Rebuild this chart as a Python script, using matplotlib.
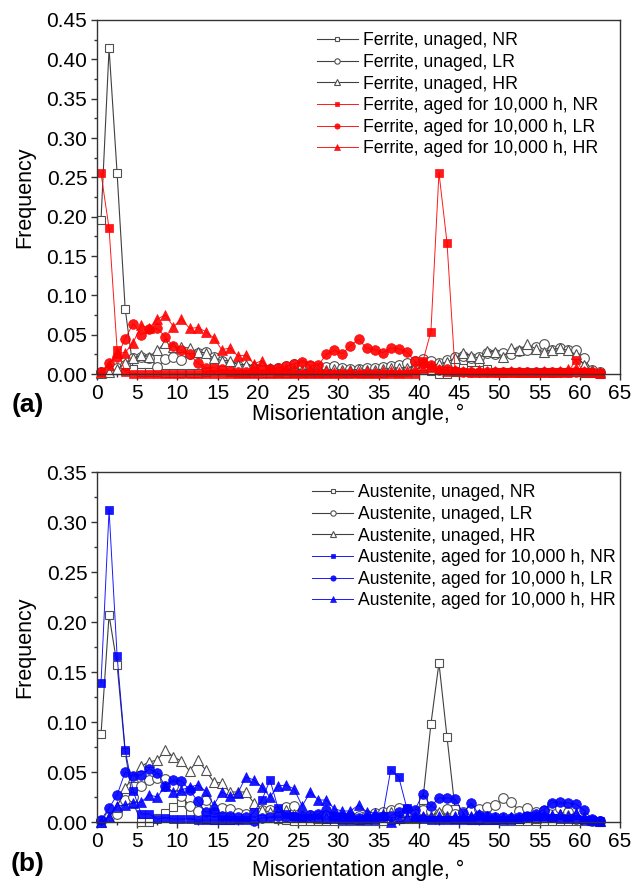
import numpy as np
import matplotlib
matplotlib.use("Agg")
import matplotlib.pyplot as plt

plt.rcParams["font.family"] = ["Liberation Sans", "DejaVu Sans"]

# bin centres of the misorientation histogram (degrees)
angle = np.arange(0.5, 63.0, 1.0)

# ---- (a) ferrite ----
f_un_nr = [0.196, 0.414, 0.255, 0.083, 0.006, 0.003, 0.002, 0.002, 0.001, 0.001,
           0.001, 0.001, 0.001, 0.002, 0.010, 0.010, 0.002, 0.001, 0.001, 0.001,
           0.001, 0.001, 0.001, 0.001, 0.001, 0.001, 0.001, 0.001, 0.001, 0.001,
           0.001, 0.001, 0.001, 0.001, 0.001, 0.001, 0.002, 0.003, 0.005, 0.006,
           0.008, 0.004, 0.000, 0.000, 0.003, 0.008, 0.015, 0.015, 0.006, 0.003,
           0.002, 0.002, 0.002, 0.002, 0.002, 0.002, 0.002, 0.002, 0.002, 0.002,
           0.001, 0.001, 0.000]
f_un_lr = [0.002, 0.005, 0.008, 0.012, 0.020, 0.022, 0.020, 0.009, 0.019, 0.022,
           0.018, 0.026, 0.027, 0.028, 0.022, 0.016, 0.012, 0.010, 0.008, 0.007,
           0.006, 0.006, 0.008, 0.010, 0.013, 0.012, 0.010, 0.008, 0.009, 0.010,
           0.007, 0.006, 0.006, 0.007, 0.008, 0.009, 0.010, 0.012, 0.014, 0.016,
           0.019, 0.016, 0.014, 0.018, 0.021, 0.023, 0.020, 0.022, 0.027, 0.025,
           0.027, 0.026, 0.029, 0.031, 0.034, 0.038, 0.030, 0.033, 0.030, 0.030,
           0.020, 0.005, 0.002]
f_un_hr = [0.001, 0.003, 0.006, 0.014, 0.020, 0.024, 0.022, 0.030, 0.040, 0.034,
           0.034, 0.033, 0.028, 0.027, 0.020, 0.017, 0.017, 0.012, 0.012, 0.010,
           0.012, 0.008, 0.007, 0.006, 0.006, 0.005, 0.005, 0.006, 0.005, 0.006,
           0.005, 0.005, 0.006, 0.005, 0.005, 0.006, 0.007, 0.008, 0.008, 0.010,
           0.012, 0.010, 0.013, 0.015, 0.020, 0.027, 0.023, 0.020, 0.029, 0.028,
           0.022, 0.033, 0.031, 0.038, 0.032, 0.028, 0.031, 0.033, 0.030, 0.025,
           0.012, 0.005, 0.002]
f_ag_nr = [0.255, 0.185, 0.031, 0.003, 0.000, 0.000, 0.000, 0.000, 0.000, 0.000,
           0.000, 0.000, 0.000, 0.000, 0.000, 0.000, 0.000, 0.000, 0.000, 0.000,
           0.000, 0.000, 0.000, 0.000, 0.000, 0.000, 0.000, 0.000, 0.000, 0.000,
           0.000, 0.000, 0.000, 0.000, 0.000, 0.000, 0.000, 0.000, 0.000, 0.000,
           0.016, 0.054, 0.256, 0.167, 0.004, 0.002, 0.001, 0.001, 0.001, 0.001,
           0.001, 0.001, 0.001, 0.001, 0.001, 0.001, 0.001, 0.001, 0.001, 0.018,
           0.002, 0.001, 0.001]
f_ag_lr = [0.003, 0.014, 0.022, 0.045, 0.064, 0.050, 0.057, 0.058, 0.047, 0.035,
           0.030, 0.025, 0.014, 0.008, 0.008, 0.006, 0.004, 0.003, 0.003, 0.004,
           0.005, 0.006, 0.008, 0.010, 0.013, 0.015, 0.011, 0.011, 0.025, 0.030,
           0.026, 0.036, 0.044, 0.033, 0.031, 0.027, 0.033, 0.032, 0.028, 0.016,
           0.014, 0.012, 0.005, 0.006, 0.004, 0.003, 0.002, 0.002, 0.002, 0.002,
           0.002, 0.002, 0.002, 0.002, 0.002, 0.002, 0.002, 0.002, 0.002, 0.002,
           0.002, 0.002, 0.001]
f_ag_hr = [0.002, 0.012, 0.027, 0.027, 0.040, 0.062, 0.058, 0.070, 0.075, 0.060,
           0.070, 0.058, 0.059, 0.054, 0.046, 0.031, 0.033, 0.023, 0.024, 0.013,
           0.017, 0.006, 0.004, 0.005, 0.004, 0.003, 0.004, 0.003, 0.004, 0.003,
           0.003, 0.004, 0.003, 0.004, 0.003, 0.004, 0.004, 0.003, 0.004, 0.006,
           0.008, 0.009, 0.006, 0.004, 0.005, 0.004, 0.004, 0.005, 0.004, 0.004,
           0.003, 0.004, 0.003, 0.003, 0.003, 0.004, 0.003, 0.004, 0.006, 0.008,
           0.004, 0.002, 0.001]

# ---- (b) austenite ----
a_un_nr = [0.088, 0.207, 0.157, 0.070, 0.019, 0.000, 0.000, 0.004, 0.009, 0.015,
           0.020, 0.008, 0.005, 0.003, 0.002, 0.002, 0.002, 0.003, 0.004, 0.003,
           0.004, 0.004, 0.003, 0.002, 0.001, 0.001, 0.001, 0.001, 0.001, 0.001,
           0.001, 0.001, 0.001, 0.001, 0.001, 0.001, 0.002, 0.003, 0.005, 0.008,
           0.022, 0.098, 0.159, 0.085, 0.013, 0.004, 0.002, 0.002, 0.002, 0.002,
           0.001, 0.001, 0.001, 0.001, 0.001, 0.001, 0.001, 0.001, 0.001, 0.001,
           0.001, 0.001, 0.000]
a_un_lr = [0.001, 0.005, 0.008, 0.022, 0.025, 0.036, 0.042, 0.044, 0.043, 0.036,
           0.026, 0.016, 0.011, 0.022, 0.013, 0.014, 0.013, 0.009, 0.008, 0.010,
           0.012, 0.012, 0.011, 0.015, 0.016, 0.006, 0.007, 0.006, 0.006, 0.005,
           0.005, 0.006, 0.006, 0.007, 0.009, 0.010, 0.012, 0.014, 0.010, 0.008,
           0.012, 0.011, 0.008, 0.013, 0.008, 0.010, 0.012, 0.013, 0.015, 0.017,
           0.024, 0.020, 0.011, 0.014, 0.010, 0.011, 0.017, 0.014, 0.010, 0.003,
           0.002, 0.001, 0.001]
a_un_hr = [0.000, 0.005, 0.015, 0.034, 0.045, 0.056, 0.060, 0.062, 0.072, 0.065,
           0.061, 0.051, 0.062, 0.052, 0.040, 0.039, 0.030, 0.030, 0.030, 0.019,
           0.012, 0.010, 0.010, 0.012, 0.008, 0.006, 0.005, 0.004, 0.004, 0.005,
           0.004, 0.004, 0.003, 0.004, 0.005, 0.008, 0.010, 0.006, 0.004, 0.004,
           0.005, 0.006, 0.010, 0.006, 0.004, 0.004, 0.004, 0.004, 0.005, 0.004,
           0.004, 0.005, 0.004, 0.005, 0.004, 0.005, 0.006, 0.008, 0.007, 0.008,
           0.005, 0.002, 0.001]
a_ag_nr = [0.139, 0.312, 0.166, 0.072, 0.031, 0.008, 0.008, 0.003, 0.004, 0.003,
           0.003, 0.003, 0.002, 0.002, 0.002, 0.002, 0.002, 0.002, 0.002, 0.010,
           0.022, 0.042, 0.014, 0.008, 0.006, 0.004, 0.004, 0.004, 0.003, 0.003,
           0.002, 0.002, 0.002, 0.002, 0.002, 0.006, 0.052, 0.045, 0.014, 0.004,
           0.003, 0.002, 0.002, 0.002, 0.002, 0.002, 0.002, 0.002, 0.002, 0.002,
           0.002, 0.002, 0.003, 0.006, 0.006, 0.005, 0.004, 0.003, 0.003, 0.003,
           0.002, 0.002, 0.001]
a_ag_lr = [0.002, 0.014, 0.027, 0.050, 0.046, 0.047, 0.053, 0.049, 0.036, 0.042,
           0.041, 0.032, 0.021, 0.010, 0.010, 0.006, 0.006, 0.005, 0.005, 0.001,
           0.004, 0.005, 0.006, 0.005, 0.005, 0.006, 0.007, 0.008, 0.012, 0.006,
           0.005, 0.005, 0.004, 0.004, 0.005, 0.005, 0.006, 0.010, 0.013, 0.012,
           0.028, 0.016, 0.024, 0.024, 0.023, 0.009, 0.019, 0.007, 0.006, 0.005,
           0.005, 0.004, 0.005, 0.006, 0.008, 0.012, 0.019, 0.020, 0.019, 0.018,
           0.012, 0.003, 0.001]
a_ag_hr = [0.000, 0.005, 0.016, 0.017, 0.019, 0.020, 0.027, 0.025, 0.036, 0.030,
           0.032, 0.035, 0.037, 0.031, 0.017, 0.030, 0.026, 0.029, 0.045, 0.042,
           0.035, 0.025, 0.036, 0.037, 0.033, 0.016, 0.030, 0.022, 0.022, 0.013,
           0.011, 0.011, 0.017, 0.010, 0.009, 0.007, 0.000, 0.004, 0.005, 0.006,
           0.006, 0.005, 0.006, 0.005, 0.006, 0.005, 0.006, 0.008, 0.006, 0.005,
           0.004, 0.005, 0.004, 0.005, 0.006, 0.007, 0.007, 0.008, 0.006, 0.009,
           0.004, 0.002, 0.001]

ferrite = [f_un_nr, f_un_lr, f_un_hr, f_ag_nr, f_ag_lr, f_ag_hr]
austenite = [a_un_nr, a_un_lr, a_un_hr, a_ag_nr, a_ag_lr, a_ag_hr]
suffixes = ["unaged, NR", "unaged, LR", "unaged, HR",
            "aged for 10,000 h, NR", "aged for 10,000 h, LR", "aged for 10,000 h, HR"]
markers = ["s", "o", "^", "s", "o", "^"]
sizes = [6.2, 7.0, 7.5, 6.2, 7.0, 7.5]

GRAY = "#404040"


def draw_panel(ax, series, phase, aged_color, ymax, xlabelpad, leg_x):
    for i, vals in enumerate(series):
        if i < 3:
            ax.plot(angle, vals, color=GRAY, lw=0.8, marker=markers[i], ms=sizes[i],
                    mfc="white", mec="#505050", mew=0.8, clip_on=False,
                    label=f"{phase}, {suffixes[i]}")
        else:
            ax.plot(angle, vals, color=aged_color, lw=0.7, alpha=0.9,
                    marker=markers[i], ms=sizes[i], mfc=aged_color, mec=aged_color,
                    mew=0.5, clip_on=False, label=f"{phase}, {suffixes[i]}")

    ax.set_xlim(0, 65)
    ax.set_ylim(0, ymax)
    ax.set_xticks(np.arange(0, 66, 5))
    ax.set_xticks(np.arange(2.5, 65, 5), minor=True)
    ax.set_yticks(np.arange(0, ymax + 1e-9, 0.05))
    ax.set_yticks(np.arange(0.025, ymax, 0.05), minor=True)
    ax.yaxis.set_major_formatter(plt.FormatStrFormatter("%.2f"))
    ax.tick_params(which="major", direction="out", length=4.5, width=1.0,
                   labelsize=15, pad=2.5, color="#333333")
    ax.tick_params(which="minor", direction="out", length=2.5, width=1.0,
                   color="#333333")
    for sp in ax.spines.values():
        sp.set_color("#333333")
        sp.set_linewidth(1.0)
    ax.set_xlabel("Misorientation angle, \u00b0", fontsize=15.5, labelpad=xlabelpad)
    ax.set_ylabel("Frequency", fontsize=15.5, labelpad=8)
    ax.legend(loc="upper left", bbox_to_anchor=(leg_x, 1.0), frameon=False,
              fontsize=12.7, handlelength=2.3, handletextpad=0.3,
              labelspacing=0.26, markerscale=0.55, borderaxespad=0.3)


fig = plt.figure(figsize=(6.33, 8.96), dpi=100)

ax_a = fig.add_axes([97 / 633, 1 - 374 / 896, 523 / 633, 354 / 896])
draw_panel(ax_a, ferrite, "Ferrite", "red", 0.45, 0.8, 0.397)

ax_b = fig.add_axes([97 / 633, 1 - 822 / 896, 523 / 633, 350 / 896])
draw_panel(ax_b, austenite, "Austenite", "blue", 0.35, 6.5, 0.388)

fig.text(28 / 633, 1 - 405 / 896, "(a)", fontsize=19, fontweight="bold",
         ha="center", va="center")
fig.text(28 / 633, 1 - 864 / 896, "(b)", fontsize=19, fontweight="bold",
         ha="center", va="center")

fig.savefig("out.png", dpi=100)
